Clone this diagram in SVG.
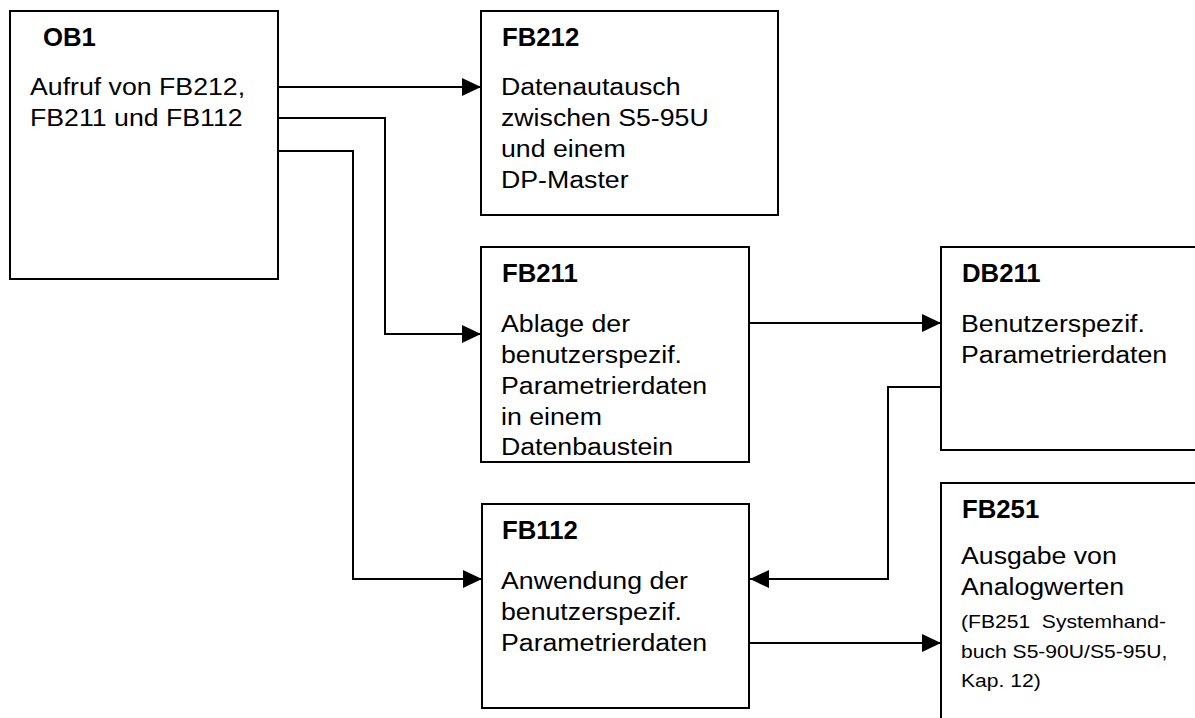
<svg xmlns="http://www.w3.org/2000/svg" width="1195" height="718" viewBox="0 0 1195 718">
  <style>
    .box { fill: #ffffff; stroke: #000000; stroke-width: 2; }
    .wire { fill: none; stroke: #000000; stroke-width: 2; }
    .title { font-family: "Liberation Sans", Arial, sans-serif; font-weight: bold; font-size: 25px; fill: #000000; }
    .body { font-family: "Liberation Sans", Arial, sans-serif; font-size: 24.5px; fill: #000000; }
    .small { font-family: "Liberation Sans", Arial, sans-serif; font-size: 18.5px; fill: #000000; }
  </style>
  <defs>
    <marker id="arrow" markerUnits="userSpaceOnUse" markerWidth="20" markerHeight="20" refX="19" refY="9" orient="auto">
      <path d="M0,0 L19,9 L0,18 Z" fill="#000000"/>
    </marker>
  </defs>
  <rect width="1195" height="718" fill="#ffffff"/>

  <!-- call structure connectors -->
  <g id="connectors">
    <path class="wire" d="M278,87 H481" marker-end="url(#arrow)"/>
    <path class="wire" d="M278,118 H385 V334 H481" marker-end="url(#arrow)"/>
    <path class="wire" d="M278,151 H353 V579 H482" marker-end="url(#arrow)"/>
    <path class="wire" d="M749,323 H941" marker-end="url(#arrow)"/>
    <path class="wire" d="M941,387 H888 V579 H750" marker-end="url(#arrow)"/>
    <path class="wire" d="M749,643 H941" marker-end="url(#arrow)"/>
  </g>

  <g id="ob1">
    <rect class="box" x="10" y="11" width="268" height="268"/>
    <text class="title" transform="matrix(1.03 0 0 1 43 46)">OB1</text>
    <text class="body" transform="matrix(1.09 0 0 1 30 0)"><tspan x="0" y="95">Aufruf von FB212,</tspan><tspan x="0" y="126">FB211 und FB112</tspan></text>
  </g>

  <g id="fb212">
    <rect class="box" x="481" y="11" width="297" height="204"/>
    <text class="title" transform="matrix(1.03 0 0 1 502 46)">FB212</text>
    <text class="body" transform="matrix(1.09 0 0 1 501 0)"><tspan x="0" y="95">Datenautausch</tspan><tspan x="0" y="126">zwischen S5-95U</tspan><tspan x="0" y="157">und einem</tspan><tspan x="0" y="188">DP-Master</tspan></text>
  </g>

  <g id="fb211">
    <rect class="box" x="481" y="247" width="268" height="215"/>
    <text class="title" transform="matrix(1.03 0 0 1 502 282)">FB211</text>
    <text class="body" transform="matrix(1.09 0 0 1 501 0)"><tspan x="0" y="332">Ablage der</tspan><tspan x="0" y="363">benutzerspezif.</tspan><tspan x="0" y="394">Parametrierdaten</tspan><tspan x="0" y="425">in einem</tspan><tspan x="0" y="455">Datenbaustein</tspan></text>
  </g>

  <g id="db211">
    <rect class="box" x="941" y="247" width="270" height="203"/>
    <text class="title" transform="matrix(1.03 0 0 1 962 282)">DB211</text>
    <text class="body" transform="matrix(1.09 0 0 1 961 0)"><tspan x="0" y="332">Benutzerspezif.</tspan><tspan x="0" y="363">Parametrierdaten</tspan></text>
  </g>

  <g id="fb112">
    <rect class="box" x="482" y="504" width="267" height="204"/>
    <text class="title" transform="matrix(1.03 0 0 1 502 539)">FB112</text>
    <text class="body" transform="matrix(1.09 0 0 1 501 0)"><tspan x="0" y="589">Anwendung der</tspan><tspan x="0" y="620">benutzerspezif.</tspan><tspan x="0" y="651">Parametrierdaten</tspan></text>
  </g>

  <g id="fb251">
    <rect class="box" x="941" y="483" width="270" height="260"/>
    <text class="title" transform="matrix(1.03 0 0 1 962 518)">FB251</text>
    <text class="body" transform="matrix(1.09 0 0 1 961 0)"><tspan x="0" y="564">Ausgabe von</tspan><tspan x="0" y="595">Analogwerten</tspan></text>
    <text class="small" transform="matrix(1.14 0 0 1 961 0)"><tspan x="0" y="628" xml:space="preserve">(FB251  Systemhand-</tspan><tspan x="0" y="658">buch S5-90U/S5-95U,</tspan><tspan x="0" y="687">Kap. 12)</tspan></text>
  </g>
</svg>
